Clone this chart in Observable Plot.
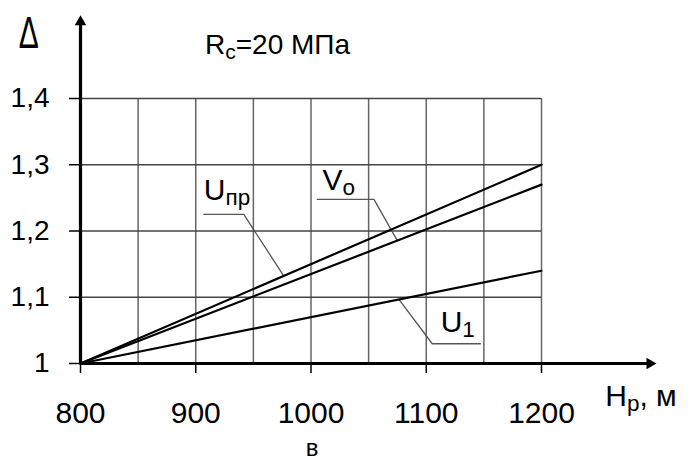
<!DOCTYPE html>
<html><head><meta charset="utf-8">
<script src="https://cdn.jsdelivr.net/npm/d3@7"></script>
<script src="https://cdn.jsdelivr.net/npm/@observablehq/plot@0.6"></script>
<style>html,body{margin:0;padding:0;background:#fff;overflow:hidden}</style>
</head><body><div id="chart"></div>
<script>
// ---- data ----
const depth = [800, 1200];              // H_p, m
const seriesUpr = [1.00, 1.30];         // U_пр
const seriesVo  = [1.00, 1.27];         // V_o
const seriesU1  = [1.00, 1.14];         // U_1
const seriesNames = ["U|пр", "V|o", "U|1"];
const xGrid = [800, 850, 900, 950, 1000, 1050, 1100, 1150, 1200];
const xTicks = [800, 900, 1000, 1100, 1200];
const xTickLabels = ["800", "900", "1000", "1100", "1200"];
const yTicks = [1, 1.1, 1.2, 1.3, 1.4];
const yTickLabels = ["1", "1,1", "1,2", "1,3", "1,4"];

// ---- annotation placement (data coordinates) ----
const labelX = [907, 1010, 1112.5];
const labelY = [1.262, 1.277, 1.062];
const leaderStart = [907, 1005.5, 1147];
const leaderBend = [941.7, 1054.6, 1105.2];
const leaderY = [1.2251, 1.2477, 1.0298];
const leaderEnd = [976.3, 1074.9, 1076.3];
const xAxisEnd = 1294, yAxisEnd = 1.5156;

const allSeries = [seriesUpr, seriesVo, seriesU1];
const lineRows = [];
allSeries.forEach((s, j) => depth.forEach((x, i) => lineRows.push({k: j, x, y: s[i]})));
const valueAt = (s, x) => s[0] + (s[1] - s[0]) * (x - depth[0]) / (depth[1] - depth[0]);
const leaderRows = [];
allSeries.forEach((s, j) => {
  leaderRows.push({k: j, x: leaderStart[j], y: leaderY[j]});
  leaderRows.push({k: j, x: leaderBend[j], y: leaderY[j]});
  leaderRows.push({k: j, x: leaderEnd[j], y: valueAt(s, leaderEnd[j])});
});

const font = "'Liberation Sans', Arial, Helvetica, sans-serif";
const plot = Plot.plot({
  width: 689, height: 463,
  marginLeft: 80, marginRight: 148, marginTop: 98, marginBottom: 100,
  x: {domain: [800, 1200]},
  y: {domain: [1, 1.4]},
  style: {fontFamily: font, background: "#fff", color: "#000", overflow: "visible"},
  marks: [
    Plot.ruleX(xGrid, {y1: 1, y2: 1.4, stroke: "#666", strokeWidth: 1.5}),
    Plot.ruleY(yTicks, {x1: 800, x2: 1200, stroke: "#444", strokeWidth: 1.4}),
    Plot.line(leaderRows, {x: "x", y: "y", z: "k", stroke: "#555", strokeWidth: 1.3}),
    Plot.line(lineRows, {x: "x", y: "y", z: "k", stroke: "#000", strokeWidth: 2.2}),
    Plot.ruleY([1], {x1: 800, x2: xAxisEnd, stroke: "#000", strokeWidth: 3.2}),
    Plot.ruleX([800], {y1: 1, y2: yAxisEnd, stroke: "#000", strokeWidth: 3.2}),
    Plot.dot([xAxisEnd], {x: d => d, y: 1, symbol: "triangle2", r: 5.5, rotate: 90, fill: "#000", stroke: null}),
    Plot.dot([yAxisEnd], {x: 800, y: d => d, symbol: "triangle2", r: 5.5, fill: "#000", stroke: null}),
    Plot.axisX(xTicks, {anchor: "bottom", tickSize: 10, tickPadding: 28, fontSize: 30, strokeWidth: 1.5,
      tickFormat: (d) => xTickLabels[xTicks.indexOf(d)], label: null}),
    Plot.axisY(yTicks, {anchor: "left", tickSize: 11, tickPadding: 20, fontSize: 28, strokeWidth: 1.5,
      tickFormat: (d) => yTickLabels[yTicks.indexOf(d)], label: null}),
    Plot.text(seriesNames, {x: (d, i) => labelX[i], y: (d, i) => labelY[i], text: d => d,
      textAnchor: "start", fontSize: 30, fill: "#000"}),
    Plot.text(["R|c|=20 МПа"], {x: 908, y: 1.4804, text: d => d, textAnchor: "start", fontSize: 28, fill: "#000"}),
    Plot.text(["H|p|, м"], {x: 1255.3, y: 0.950, text: d => d, textAnchor: "start", fontSize: 30, fill: "#000"}),
    Plot.text(["в"], {x: 1001, y: 0.8716, text: d => d, fontSize: 24, fill: "#000"}),
    Plot.text(["Δ"], {x: 755, y: 1.4977, text: d => d, fontSize: 44, fill: "#000"})
  ]
});

// subscripts and the narrow delta
const NS = "http://www.w3.org/2000/svg";
plot.querySelectorAll("text").forEach(t => {
  const s = t.textContent;
  if (s === "Δ") {
    const tr = t.getAttribute("transform");
    if (tr) t.setAttribute("transform", tr + " scale(0.68,1)");
    else {
      const x = +t.getAttribute("x") || 0, y = +t.getAttribute("y") || 0;
      t.removeAttribute("x"); t.removeAttribute("y");
      t.setAttribute("transform", `translate(${x},${y}) scale(0.68,1)`);
    }
    return;
  }
  if (!s.includes("|")) return;
  const parts = s.split("|");
  t.textContent = "";
  const sub = 5;
  parts.forEach((p, i) => {
    if (!p) return;
    const ts = document.createElementNS(NS, "tspan");
    ts.textContent = p;
    if (i % 2 === 1) { ts.setAttribute("font-size", "0.75em"); ts.setAttribute("dy", sub); }
    else if (i > 0) { ts.setAttribute("dy", -sub); }
    t.appendChild(ts);
  });
});
document.getElementById("chart").appendChild(plot);
</script>
</body></html>
